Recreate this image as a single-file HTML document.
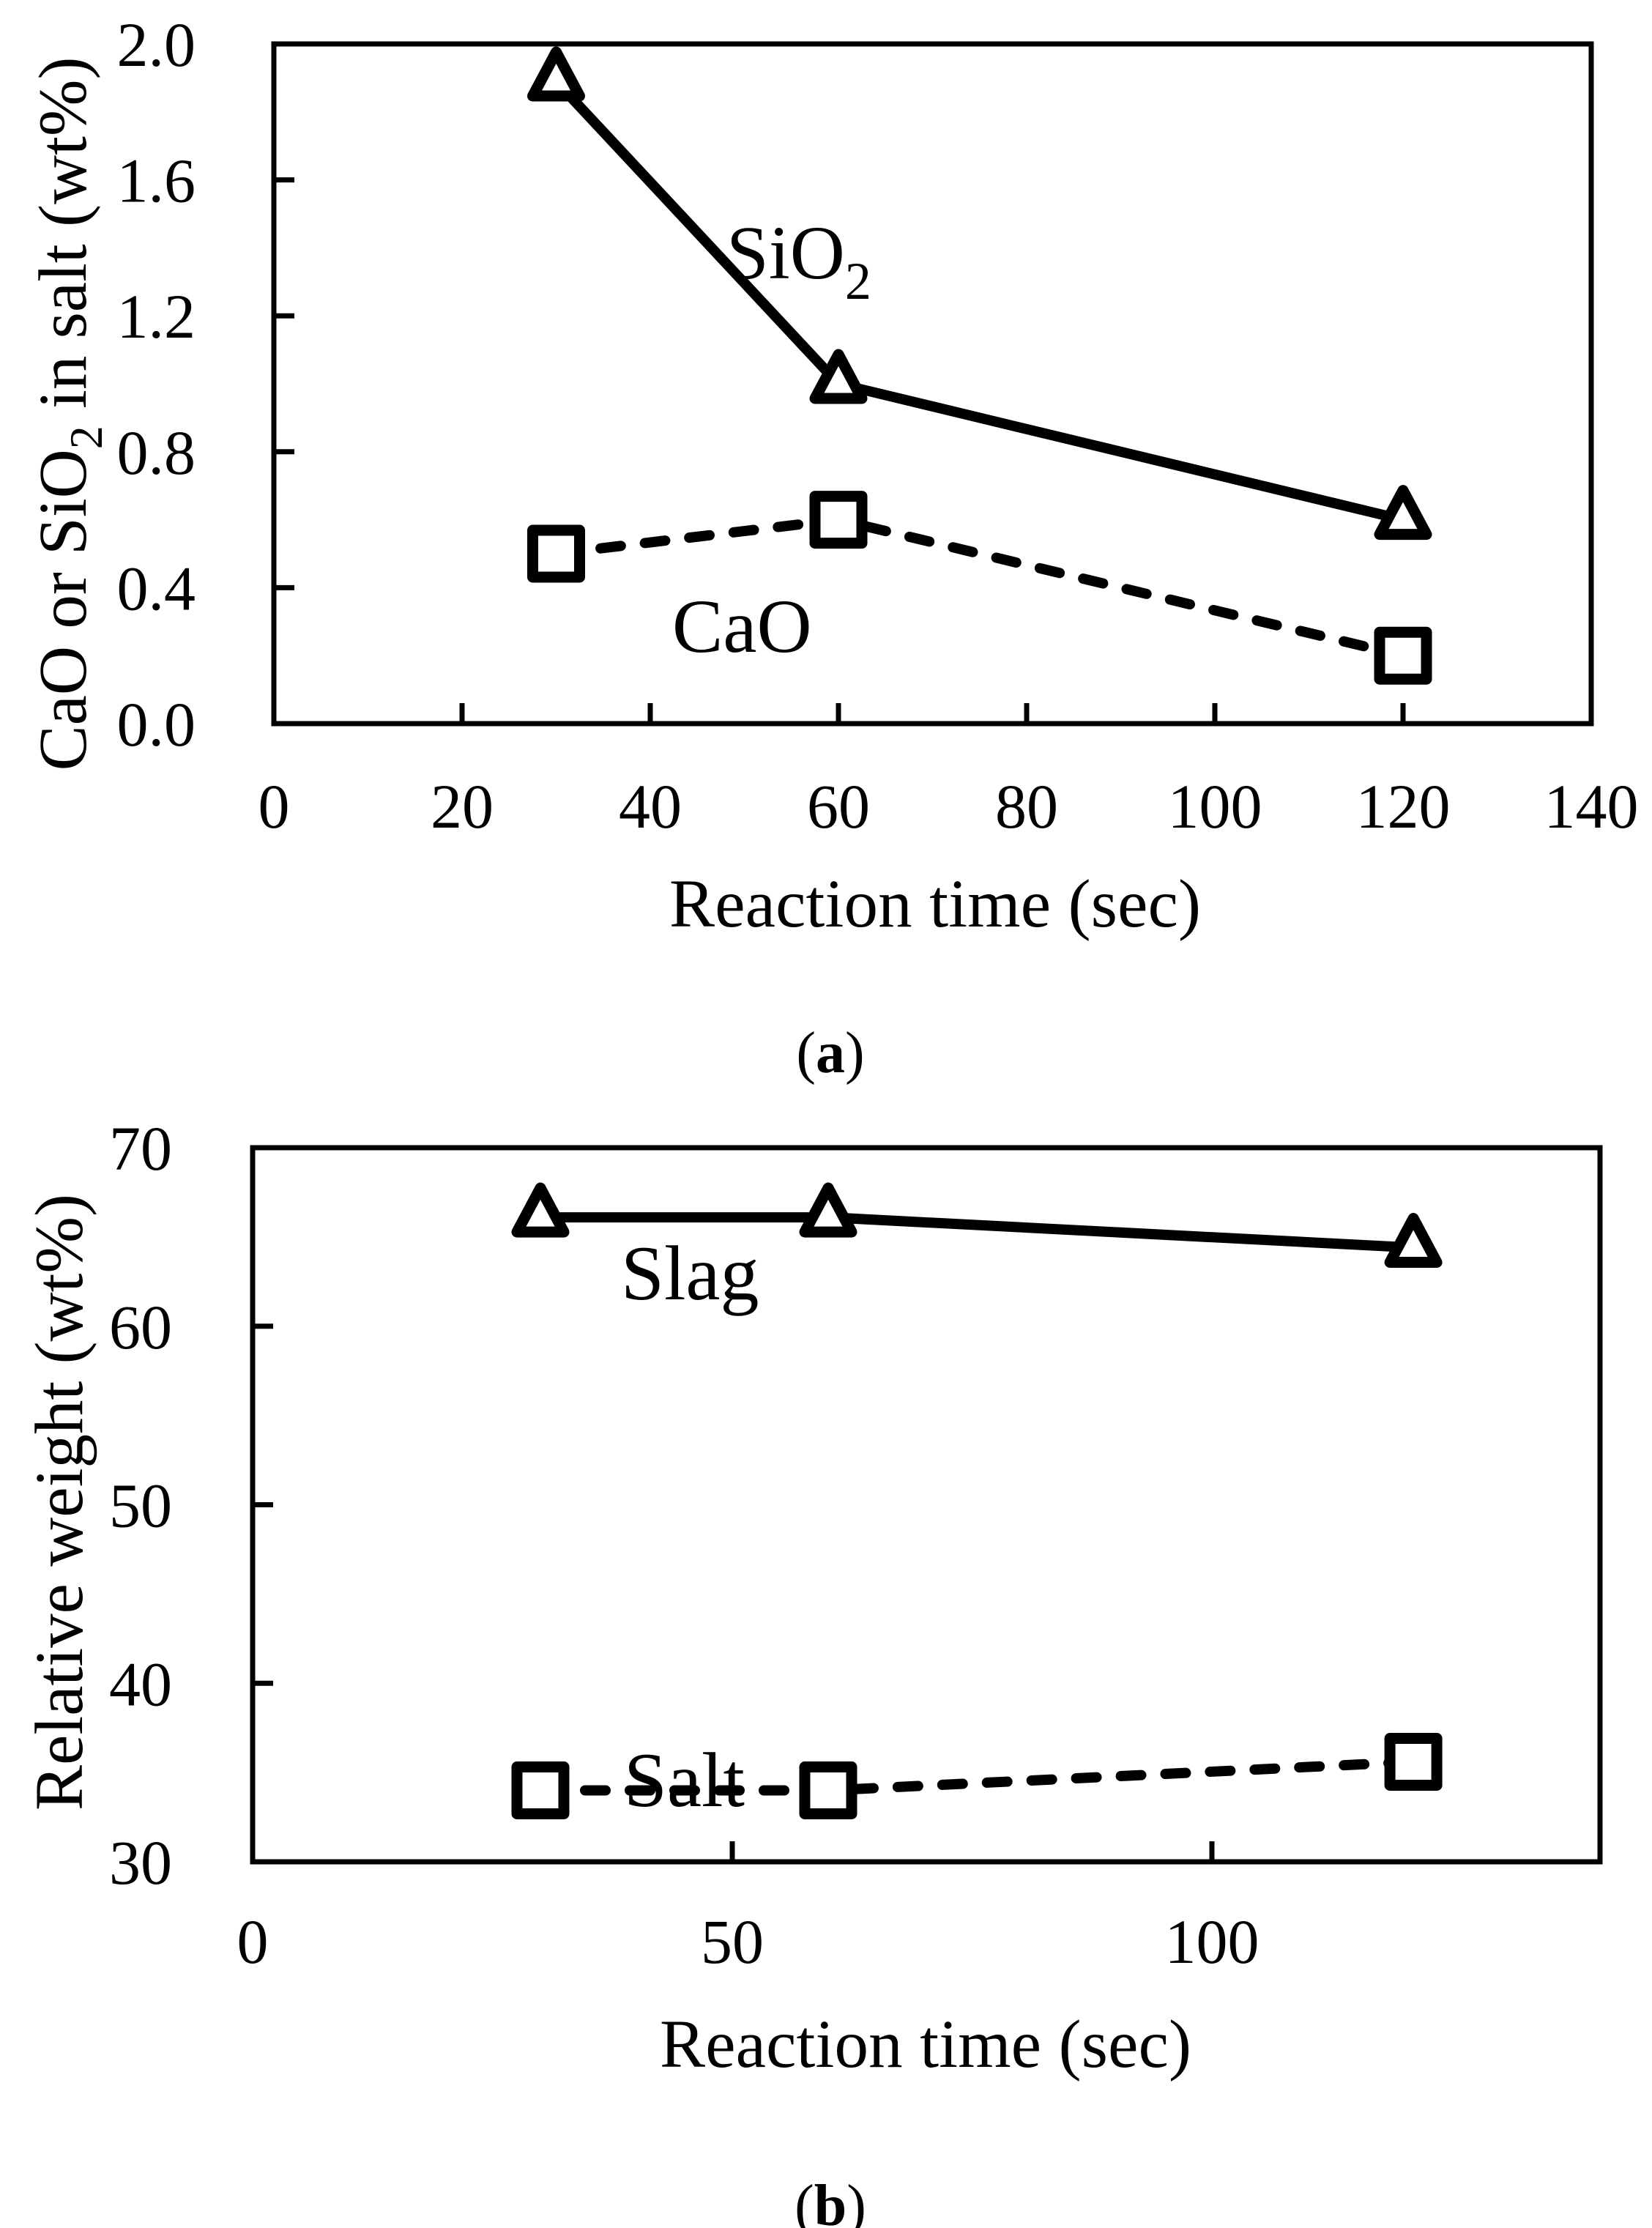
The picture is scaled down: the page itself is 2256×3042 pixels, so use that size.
<!DOCTYPE html>
<html><head><meta charset="utf-8"><style>html,body{margin:0;padding:0;background:#fff}svg{display:block}text{font-family:"Liberation Serif",serif;fill:#000}</style></head>
<body>
<svg id="fig" width="2256" height="3042" viewBox="0 0 2256 3042" xmlns="http://www.w3.org/2000/svg">
<g id="ga"></g>
<g id="gb"></g>
</svg>
<script>
// Chart (a) data
const timesA = [30, 60, 120];
const sio2Values = [1.89, 1.0, 0.6];
const caoValues = [0.5, 0.6, 0.2];
const xTicksA = [0, 20, 40, 60, 80, 100, 120, 140];
const yTicksA = [0.0, 0.4, 0.8, 1.2, 1.6, 2.0];
const yTickLabelsA = ["0.0", "0.4", "0.8", "1.2", "1.6", "2.0"];
// Chart (b) data
const timesB = [30, 60, 121];
const slagValues = [66.1, 66.1, 64.4];
const saltValues = [34.0, 34.0, 35.6];
const xTicksB = [0, 50, 100];
const yTicksB = [30, 40, 50, 60, 70];

const NS = "http://www.w3.org/2000/svg";
function mk(parent, tag, attrs, txt) {
  const e = document.createElementNS(NS, tag);
  for (const k in attrs) e.setAttribute(k, attrs[k]);
  if (txt !== undefined) e.textContent = txt;
  parent.appendChild(e);
  return e;
}
function axisFns(x0, x1, xmin, xmax, y0, y1, ymin, ymax) {
  return {
    sx: v => x0 + (v - xmin) / (xmax - xmin) * (x1 - x0),
    sy: v => y0 - (v - ymin) / (ymax - ymin) * (y0 - y1)
  };
}
function drawFrame(g, L, R, T, B) {
  const f = mk(g, "rect", {x: L, y: T, width: R - L, height: B - T, fill: "none", stroke: "#000", "stroke-width": 7});
  
  
}
function drawSeries(g, xs, ys, ax, dashed, marker, name) {
  const pts = xs.map((x, i) => ax.sx(x) + "," + ax.sy(ys[i])).join(" ");
  const attrs = {points: pts, fill: "none", stroke: "#000", "stroke-width": 14, "stroke-linejoin": "round", "stroke-linecap": "round"};
  if (dashed) attrs["stroke-dasharray"] = "28 33";
  const line = mk(g, "polyline", attrs);
  
  
  xs.forEach((x, i) => {
    const cx = ax.sx(x), cy = ax.sy(ys[i]);
    let m;
    if (marker === "square") {
      m = mk(g, "rect", {x: cx - 32, y: cy - 32, width: 64, height: 64, fill: "#fff", stroke: "#000", "stroke-width": 15, "stroke-linejoin": "round"});
    } else {
      m = mk(g, "polygon", {points: (cx) + "," + (cy - 40) + " " + (cx - 32) + "," + (cy + 20) + " " + (cx + 32) + "," + (cy + 20), fill: "#fff", stroke: "#000", "stroke-width": 15, "stroke-linejoin": "round"});
    }
    
    
  });
}

// ---------- Chart (a) ----------
(function () {
  const g = document.getElementById("ga");
  const L = 374, R = 2173, T = 60, B = 988;
  const ax = axisFns(L, R, 0, 140, B, T, 0, 2.0);
  drawFrame(g, L, R, T, B);
  xTicksA.forEach(v => {
    const x = ax.sx(v);
    if (v > 0 && v < 140) {
      const t = mk(g, "line", {x1: x, y1: B, x2: x, y2: B - 28, stroke: "#000", "stroke-width": 7});
      
      
    }
    const l = mk(g, "text", {x: x, y: 1130, "font-size": 86, "text-anchor": "middle"}, String(v));
    
    
  });
  yTicksA.forEach((v, i) => {
    const y = ax.sy(v);
    if (v > 0 && v < 2.0) {
      const t = mk(g, "line", {x1: L, y1: y, x2: L + 28, y2: y, stroke: "#000", "stroke-width": 7});
      
      
    }
    const l = mk(g, "text", {x: 267, y: y + 30, "font-size": 86, "text-anchor": "end"}, yTickLabelsA[i]);
    
    
  });
  drawSeries(g, timesA, sio2Values, ax, false, "triangle", "sio2");
  drawSeries(g, timesA, caoValues, ax, true, "square", "cao");
  const s = mk(g, "text", {x: 992, y: 380, "font-size": 104});
  
  
  s.appendChild(document.createTextNode("SiO"));
  mk(s, "tspan", {"font-size": 72, dy: 28}, "2");
  const c = mk(g, "text", {x: 918, y: 890, "font-size": 104}, "CaO");
  
  
  const xt = mk(g, "text", {x: 1277, y: 1265, "font-size": 93, "text-anchor": "middle", textLength: 726}, "Reaction time (sec)");
  
  
  const yt = mk(g, "text", {x: 0, y: 0, "font-size": 93, "text-anchor": "middle", transform: "translate(117,565) rotate(-90)"});
  
  
  yt.appendChild(document.createTextNode("CaO or SiO"));
  mk(yt, "tspan", {"font-size": 64, dy: 22}, "2");
  mk(yt, "tspan", {dy: -22}, " in salt (wt%)");
  const cap = mk(g, "text", {x: 1134, y: 1464, "font-size": 80, "text-anchor": "middle"});
  
  
  cap.appendChild(document.createTextNode("("));
  mk(cap, "tspan", {"font-weight": "bold"}, "a");
  cap.appendChild(document.createTextNode(")"));
})();

// ---------- Chart (b) ----------
(function () {
  const g = document.getElementById("gb");
  const L = 345, R = 2185, T = 1567, B = 2542;
  const ax = axisFns(L, 2179, 0, 140, B, T, 30, 70);
  drawFrame(g, L, R, T, B);
  xTicksB.forEach(v => {
    const x = ax.sx(v);
    if (v > 0) {
      const t = mk(g, "line", {x1: x, y1: B, x2: x, y2: B - 28, stroke: "#000", "stroke-width": 7});
      
      
    }
    const l = mk(g, "text", {x: x, y: 2680, "font-size": 86, "text-anchor": "middle"}, String(v));
    
    
  });
  yTicksB.forEach(v => {
    const y = ax.sy(v);
    if (v > 30 && v < 70) {
      const t = mk(g, "line", {x1: L, y1: y, x2: L + 28, y2: y, stroke: "#000", "stroke-width": 7});
      
      
    }
    const l = mk(g, "text", {x: 235, y: y + 30, "font-size": 86, "text-anchor": "end"}, String(v));
    
    
  });
  const sl = mk(g, "text", {x: 848, y: 1774, "font-size": 106}, "Slag");
  
  
  const sa = mk(g, "text", {x: 852, y: 2466, "font-size": 106}, "Salt");
  
  
  drawSeries(g, timesB, slagValues, ax, false, "triangle", "slag");
  drawSeries(g, timesB, saltValues, ax, true, "square", "salt");
  const xt = mk(g, "text", {x: 1264, y: 2822, "font-size": 93, "text-anchor": "middle", textLength: 726}, "Reaction time (sec)");
  
  
  const yt = mk(g, "text", {x: 0, y: 0, "font-size": 93, "text-anchor": "middle", transform: "translate(112,2051) rotate(-90)"}, "Relative weight (wt%)");
  
  
  const cap = mk(g, "text", {x: 1134, y: 3038, "font-size": 80, "text-anchor": "middle"});
  
  
  cap.appendChild(document.createTextNode("("));
  mk(cap, "tspan", {"font-weight": "bold"}, "b");
  cap.appendChild(document.createTextNode(")"));
})();
</script>
</body></html>
